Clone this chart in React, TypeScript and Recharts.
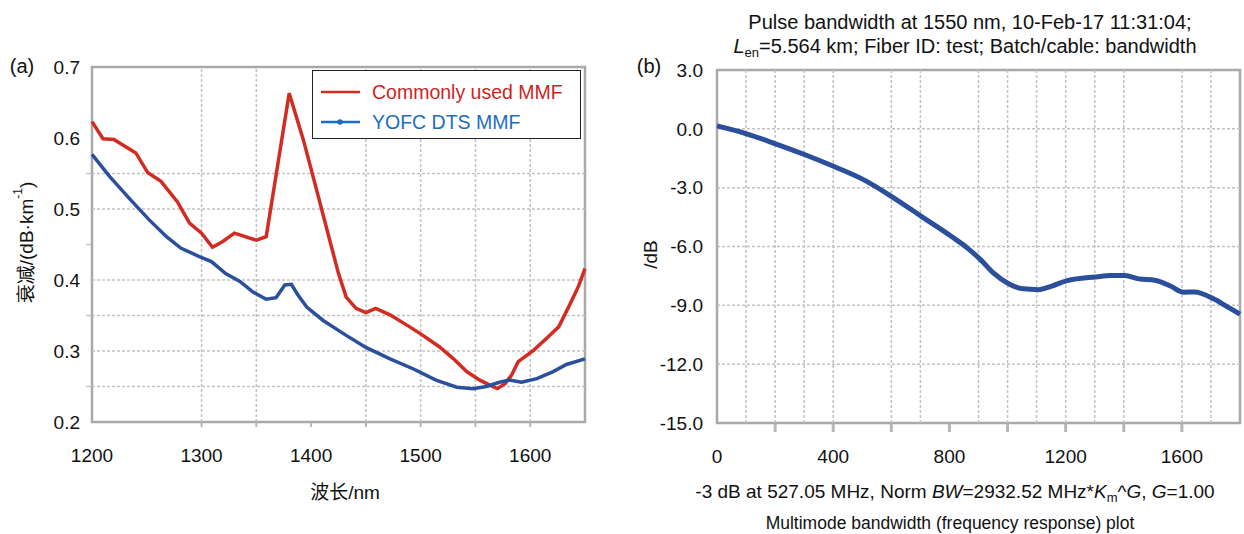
import {
  LineChart,
  Line,
  XAxis,
  YAxis,
  ReferenceLine,
  ReferenceArea,
  Legend,
  Label,
} from "recharts";

const SANS = "'Liberation Sans', Arial, 'Noto Sans CJK SC', sans-serif";

// (a) attenuation spectra
const commonWavelength = [
  1200, 1210, 1220, 1240, 1251, 1263, 1278, 1289, 1300, 1310, 1319, 1330, 1350,
  1359, 1380, 1393, 1405, 1417, 1425, 1432, 1441, 1450, 1459, 1472, 1490, 1502,
  1517, 1530, 1542, 1554, 1563, 1570, 1577, 1583, 1589, 1603, 1615, 1626, 1636,
  1644, 1650,
];
const commonAtten = [
  0.623, 0.599, 0.598, 0.579, 0.551, 0.539, 0.51, 0.48, 0.466, 0.446, 0.454,
  0.466, 0.456, 0.461, 0.663, 0.597, 0.527, 0.456, 0.409, 0.376, 0.36, 0.354,
  0.36, 0.351, 0.334, 0.322, 0.306, 0.289, 0.271, 0.259, 0.252, 0.247, 0.254,
  0.266, 0.285, 0.301, 0.318, 0.334, 0.365, 0.391, 0.416,
];
const yofcWavelength = [
  1200, 1216, 1234, 1252, 1268, 1281, 1298, 1309, 1322, 1335, 1347, 1359, 1368,
  1376, 1382, 1388, 1396, 1411, 1432, 1450, 1472, 1493, 1514, 1533, 1548, 1560,
  1572, 1581, 1592, 1606, 1621, 1633, 1650,
];
const yofcAtten = [
  0.577, 0.546, 0.515, 0.485, 0.461, 0.445, 0.433, 0.426, 0.409, 0.398, 0.383,
  0.373, 0.375, 0.393, 0.394, 0.379, 0.362, 0.343, 0.322, 0.305, 0.289, 0.275,
  0.259, 0.249, 0.247, 0.25, 0.256, 0.259, 0.256, 0.261, 0.271, 0.281, 0.289,
];
const wlLabels = [1200, 1300, 1400, 1500, 1600];
const wlMarks = [1300, 1350, 1400, 1450, 1500, 1550, 1600];
const wlGrid = [1300, 1350, 1450, 1500, 1550, 1600];
const attenLabels = [0.2, 0.3, 0.4, 0.5, 0.6, 0.7];
const attenMarks = [0.25, 0.35, 0.45, 0.55];
const attenGrid = [0.25, 0.3, 0.35, 0.4, 0.5, 0.55];

// (b) frequency response
const freqMHz = [
  0, 99, 199, 301, 401, 504, 600, 703, 806, 861, 907, 951, 1005, 1054, 1106,
  1150, 1205, 1304, 1356, 1404, 1452, 1507, 1562, 1606, 1644, 1709, 1754, 1800,
];
const responseDb = [
  0.15, -0.24, -0.75, -1.31, -1.91, -2.59, -3.44, -4.46, -5.48, -6.07, -6.67,
  -7.35, -7.91, -8.16, -8.2, -8.03, -7.74, -7.55, -7.48, -7.48, -7.65, -7.72,
  -8.03, -8.33, -8.32, -8.67, -9.05, -9.45,
];
const freqLabels = [0, 400, 800, 1200, 1600];
const freqMarks = [200, 400, 600, 800, 1000, 1200, 1400, 1600];
const freqGrid = [100, 200, 300, 400, 600, 700, 900, 1000, 1100, 1200, 1300, 1400, 1600, 1700];
const dbLabels = [3, 0, -3, -6, -9, -12, -15];
const dbGrid = [0, -3, -6, -9, -12];

const commonData = commonWavelength.map((wl, i) => ({ wl, v: commonAtten[i] }));
const yofcData = yofcWavelength.map((wl, i) => ({ wl, v: yofcAtten[i] }));
const responseData = freqMHz.map((f, i) => ({ f, v: responseDb[i] }));

const union = (a: number[], b: number[]) => Array.from(new Set([...a, ...b])).sort((p, q) => p - q);

const RED = "#d22c22";
const NAVY = "#2b4f9c";
const GRID = "#c2c2c2";
const FRAME = "#a9a9a9";

const legendText: Record<string, string> = {
  "Commonly used MMF": "#d01f1f",
  "YOFC DTS MMF": "#1c6dc2",
};
const legendLine: Record<string, string> = {
  "Commonly used MMF": "#d42a22",
  "YOFC DTS MMF": "#1c6dc2",
};

function AttenLegend({ payload }: any) {
  return (
    <div
      style={{
        position: "relative",
        width: 269,
        height: 69,
        border: "1.5px solid #222",
        background: "#fff",
        boxSizing: "border-box",
        fontFamily: SANS,
        fontSize: 19.5,
      }}
    >
      {(payload || []).map((entry: any, i: number) => (
        <div key={entry.value} style={{ position: "absolute", left: 0, top: 8 + i * 30, height: 26, width: "100%" }}>
          <svg width={44} height={26} style={{ position: "absolute", left: 6, top: 0 }}>
            <line x1={2} y1={13} x2={41} y2={13} stroke={legendLine[entry.value]} strokeWidth={2.5} />
            {i === 1 && <circle cx={21} cy={13} r={2.8} fill={legendLine[entry.value]} />}
          </svg>
          <span style={{ position: "absolute", left: 59, top: 1, lineHeight: "24px", color: legendText[entry.value], whiteSpace: "nowrap" }}>
            {entry.value}
          </span>
        </div>
      ))}
    </div>
  );
}

const AttenYLabel = ({ viewBox }: any) => {
  const cx = viewBox.x - 65;
  const cy = viewBox.y + viewBox.height / 2 - 2;
  return (
    <text
      transform={`translate(${cx},${cy}) rotate(-90)`}
      textAnchor="middle"
      dominantBaseline="central"
      fontFamily={SANS}
      fontSize={19}
      fill="#111"
    >
      衰减/(dB·km
      <tspan fontSize={12} dy={-8}>-1</tspan>
      <tspan dy={8}>)</tspan>
    </text>
  );
};

const DbYLabel = ({ viewBox }: any) => (
  <text
    transform={`translate(${viewBox.x - 66},${viewBox.y + viewBox.height / 2 + 8}) rotate(-90)`}
    textAnchor="middle"
    dominantBaseline="central"
    fontFamily={SANS}
    fontSize={19}
    fill="#111"
  >
    /dB
  </text>
);

// bottom axis tick: optional grey mark below the frame plus an optional label
const X_GAP = 27;
function makeXTick(labels: number[], marks: number[], markLen: number, markWidth: number) {
  return ({ x, y, payload }: any) => {
    const v = payload.value;
    const axisY = y - X_GAP;
    return (
      <g>
        {marks.includes(v) && (
          <line x1={x} x2={x} y1={axisY + 1} y2={axisY + 1 + markLen} stroke="#b6b6b6" strokeWidth={markWidth} />
        )}
        {labels.includes(v) && (
          <text x={x} y={y} dy="0.71em" textAnchor="middle" fill="#111" fontSize={19} fontFamily={SANS}>
            {v}
          </text>
        )}
      </g>
    );
  };
}

// left axis tick: optional short mark outside the frame plus an optional label
function makeYTick(labels: number[], marks: number[], gap: number) {
  return ({ x, y, payload }: any) => {
    const v = payload.value;
    const axisX = x + gap;
    return (
      <g>
        {marks.includes(v) && <line x1={axisX - 1} x2={axisX - 6} y1={y} y2={y} stroke="#c6c6c6" strokeWidth={1.5} />}
        {labels.includes(v) && (
          <text x={x} y={y} dy="0.355em" textAnchor="end" fill="#111" fontSize={19} fontFamily={SANS}>
            {v.toFixed(1)}
          </text>
        )}
      </g>
    );
  };
}

const WlTick = makeXTick(wlLabels, wlMarks, 4, 2);
const AttenTick = makeYTick(attenLabels, attenMarks, 12);
const FreqTick = makeXTick(freqLabels, freqMarks, 8, 3);
const DbTick = makeYTick(dbLabels, [], 14);

function AttenuationChart() {
  return (
    <LineChart
      width={600}
      height={534}
      margin={{ top: 67, right: 15, bottom: 111, left: 91 }}
      style={{ position: "absolute", left: 0, top: 0 }}
    >
      <XAxis
        type="number"
        dataKey="wl"
        domain={[1200, 1650]}
        ticks={union(wlLabels, wlMarks)}
        interval={0}
        height={1}
        axisLine={false}
        tickLine={false}
        tickSize={0}
        tickMargin={X_GAP}
        tick={WlTick}
      />
      <YAxis
        type="number"
        domain={[0.2, 0.7]}
        ticks={union(attenLabels, attenMarks)}
        interval={0}
        width={1}
        axisLine={false}
        tickLine={false}
        tickSize={0}
        tickMargin={12}
        tick={AttenTick}
      >
        <Label content={AttenYLabel} />
      </YAxis>
      {attenGrid.map((y) => (
        <ReferenceLine key={`h${y}`} y={y} stroke={GRID} strokeWidth={1.5} strokeDasharray="3 2" />
      ))}
      {wlGrid.map((x) => (
        <ReferenceLine key={`v${x}`} x={x} stroke={GRID} strokeWidth={1.5} strokeDasharray="3 2" />
      ))}
      <ReferenceArea x1={1200} x2={1650} y1={0.2} y2={0.7} fill="none" stroke={FRAME} strokeWidth={2.5} />
      <Line
        data={commonData}
        dataKey="v"
        name="Commonly used MMF"
        type="linear"
        stroke={RED}
        strokeWidth={3.5}
        dot={false}
        isAnimationActive={false}
      />
      <Line
        data={yofcData}
        dataKey="v"
        name="YOFC DTS MMF"
        type="linear"
        stroke={NAVY}
        strokeWidth={3.5}
        dot={false}
        isAnimationActive={false}
      />
      <Legend
        layout="vertical"
        align="center"
        verticalAlign="middle"
        content={AttenLegend}
        wrapperStyle={{ left: 312, top: 70, width: 269, height: 69 }}
      />
    </LineChart>
  );
}

function ResponseChart() {
  return (
    <LineChart
      width={644}
      height={534}
      margin={{ top: 70, right: 4, bottom: 110, left: 116 }}
      style={{ position: "absolute", left: 600, top: 0 }}
    >
      <XAxis
        type="number"
        dataKey="f"
        domain={[0, 1800]}
        ticks={union(freqLabels, freqMarks)}
        interval={0}
        height={1}
        axisLine={false}
        tickLine={false}
        tickSize={0}
        tickMargin={X_GAP}
        tick={FreqTick}
      />
      <YAxis
        type="number"
        domain={[-15, 3]}
        ticks={dbLabels}
        interval={0}
        width={1}
        axisLine={false}
        tickLine={false}
        tickSize={0}
        tickMargin={14}
        tick={DbTick}
      >
        <Label content={DbYLabel} />
      </YAxis>
      {dbGrid.map((y) => (
        <ReferenceLine key={`h${y}`} y={y} stroke={GRID} strokeWidth={1.5} strokeDasharray="3 2" />
      ))}
      {freqGrid.map((x) => (
        <ReferenceLine key={`v${x}`} x={x} stroke={GRID} strokeWidth={1.5} strokeDasharray="3 2" />
      ))}
      <ReferenceArea x1={0} x2={1800} y1={-15} y2={3} fill="none" stroke={FRAME} strokeWidth={2.5} />
      <Line
        data={responseData}
        dataKey="v"
        type="monotone"
        stroke={NAVY}
        strokeWidth={5}
        dot={false}
        isAnimationActive={false}
      />
    </LineChart>
  );
}

const textAt = (cx: number, cy: number, size = 19): React.CSSProperties => ({
  position: "absolute",
  left: cx,
  top: cy - 11,
  transform: "translateX(-50%)",
  lineHeight: "22px",
  fontSize: size,
  whiteSpace: "nowrap",
});

export default function App() {
  return (
    <div
      style={{
        position: "absolute",
        left: 0,
        top: 0,
        width: 1244,
        height: 534,
        background: "#fff",
        fontFamily: SANS,
        fontSize: 19,
        color: "#111",
        overflow: "hidden",
      }}
    >
      <AttenuationChart />
      <ResponseChart />

      <div style={textAt(22, 66, 20)}>(a)</div>
      <div style={textAt(345, 493)}>波长/nm</div>

      <div style={textAt(649, 66, 20)}>(b)</div>
      <div style={textAt(970, 22, 20)}>Pulse bandwidth at 1550 nm, 10-Feb-17 11:31:04;</div>
      <div style={textAt(965, 46, 20)}>
        <i>L</i>
        <sub style={{ fontSize: 13, verticalAlign: "-4px" }}>en</sub>=5.564 km; Fiber ID: test; Batch/cable: bandwidth
      </div>
      <div style={textAt(955, 492)}>
        -3 dB at 527.05 MHz, Norm <i>BW</i>=2932.52 MHz*<i>K</i>
        <sub style={{ fontSize: 13, verticalAlign: "-4px" }}>m</sub>^<i>G</i>, <i>G</i>=1.00
      </div>
      <div style={textAt(950, 523, 17.5)}>Multimode bandwidth (frequency response) plot</div>
    </div>
  );
}
